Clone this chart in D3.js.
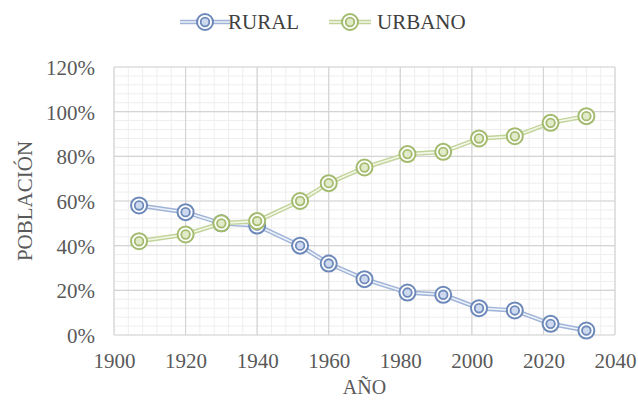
<!DOCTYPE html>
<html><head><meta charset="utf-8">
<script src="https://cdn.jsdelivr.net/npm/d3@7"></script>
<style>body{margin:0;background:#fff}</style>
</head><body>
<script>
const years = [1907,1920,1930,1940,1952,1960,1970,1982,1992,2002,2012,2022,2032];
const rural = [58,55,50,49,40,32,25,19,18,12,11,5,2];
const urbano = [42,45,50,51,60,68,75,81,82,88,89,95,98];
const xTicks = [1900,1920,1940,1960,1980,2000,2020,2040];
const yTicks = [0,20,40,60,80,100,120];
const seriesNames = ["RURAL","URBANO"];

const W = 638, H = 400;
const m = {left:114, right:23, top:67, bottom:65};
const FONT = '"Liberation Serif","Times New Roman",serif';
const svg = d3.select("body").append("svg").attr("width",W).attr("height",H);
const x = d3.scaleLinear().domain([1900,2040]).range([m.left, W-m.right]);
const y = d3.scaleLinear().domain([0,120]).range([H-m.bottom, m.top]);

// minor grid
const g = svg.append("g");
g.selectAll(".mx").data(d3.range(1900,2041,4)).enter().append("line")
  .attr("x1",d=>x(d)).attr("x2",d=>x(d)).attr("y1",y(0)).attr("y2",y(120))
  .attr("stroke","#eeeeee").attr("stroke-width",1);
g.selectAll(".my").data(d3.range(0,121,4)).enter().append("line")
  .attr("y1",d=>y(d)).attr("y2",d=>y(d)).attr("x1",x(1900)).attr("x2",x(2040))
  .attr("stroke","#eeeeee").attr("stroke-width",1);
// major grid
g.selectAll(".Mx").data(xTicks).enter().append("line")
  .attr("x1",d=>x(d)).attr("x2",d=>x(d)).attr("y1",y(0)).attr("y2",y(120))
  .attr("stroke","#d4d4d4").attr("stroke-width",1.2);
g.selectAll(".My").data(yTicks).enter().append("line")
  .attr("y1",d=>y(d)).attr("y2",d=>y(d)).attr("x1",x(1900)).attr("x2",x(2040))
  .attr("stroke","#d4d4d4").attr("stroke-width",1.2);

// axes
const xAxis = svg.append("g").attr("transform",`translate(0,${y(0)})`)
  .call(d3.axisBottom(x).tickValues(xTicks).tickFormat(d3.format("d")).tickSize(0).tickPadding(18));
const yAxis = svg.append("g").attr("transform",`translate(${x(1900)},0)`)
  .call(d3.axisLeft(y).tickValues(yTicks).tickFormat(d=>d+"%").tickSize(0).tickPadding(19));
[xAxis,yAxis].forEach(a=>{
  a.select(".domain").remove();
  a.attr("font-family",null).attr("font-size",null);
  a.selectAll("text").style("font-family",FONT).style("font-size","21px").attr("fill","#595959");
});
yAxis.selectAll("text").attr("dy","0.35em");

svg.append("text").attr("x",(x(1900)+x(2040))/2).attr("y",394).attr("text-anchor","middle")
  .style("font-family",FONT).style("font-size","20px").attr("fill","#595959").text("AÑO");
svg.append("text").attr("transform",`translate(32,${(y(0)+y(120))/2}) rotate(-90)`).attr("text-anchor","middle")
  .style("font-family",FONT).style("font-size","21px").attr("fill","#595959").text("POBLACIÓN");

const styles = [
  {outer:"#6d89ba", band:"#9fb4d8", mid:"#eef2f9", fill:"#cdd9ee", data:rural},
  {outer:"#a3bb6e", band:"#c3d49b", mid:"#f4f8ea", fill:"#e2ebc9", data:urbano}
];
const line = d3.line().x(d=>x(d[0])).y(d=>y(d[1]));

function marker(sel, cx, cy, s){
  sel.append("circle").attr("cx",cx).attr("cy",cy).attr("r",8).attr("fill","#fff")
    .attr("stroke",s.outer).attr("stroke-width",2);
  sel.append("circle").attr("cx",cx).attr("cy",cy).attr("r",4.3).attr("fill",s.fill)
    .attr("stroke",s.outer).attr("stroke-width",1.8);
}

styles.forEach(s=>{
  const pts = years.map((yr,i)=>[yr,s.data[i]]);
  const gg = svg.append("g");
  gg.append("path").attr("d",line(pts)).attr("fill","none").attr("stroke",s.band).attr("stroke-width",4.5);
  gg.append("path").attr("d",line(pts)).attr("fill","none").attr("stroke",s.mid).attr("stroke-width",1.6);
  pts.forEach(p=>marker(gg, x(p[0]), y(p[1]), s));
});

// legend
const legPos = [{lx:180, cx:205, tx:228},{lx:329, cx:350, tx:377}];
styles.forEach((s,i)=>{
  const lg = svg.append("g");
  const p = legPos[i];
  const yy = 22;
  lg.append("line").attr("x1",p.lx).attr("x2",p.lx+2*(p.cx-p.lx)).attr("y1",yy).attr("y2",yy)
    .attr("stroke",s.band).attr("stroke-width",4.5);
  lg.append("line").attr("x1",p.lx).attr("x2",p.lx+2*(p.cx-p.lx)).attr("y1",yy).attr("y2",yy)
    .attr("stroke",s.mid).attr("stroke-width",1.6);
  marker(lg, p.cx, yy, s);
  lg.append("text").attr("x",p.tx).attr("y",29).style("font-family",FONT).style("font-size","21px")
    .attr("fill","#404040").text(seriesNames[i]);
});
</script>
</body></html>
